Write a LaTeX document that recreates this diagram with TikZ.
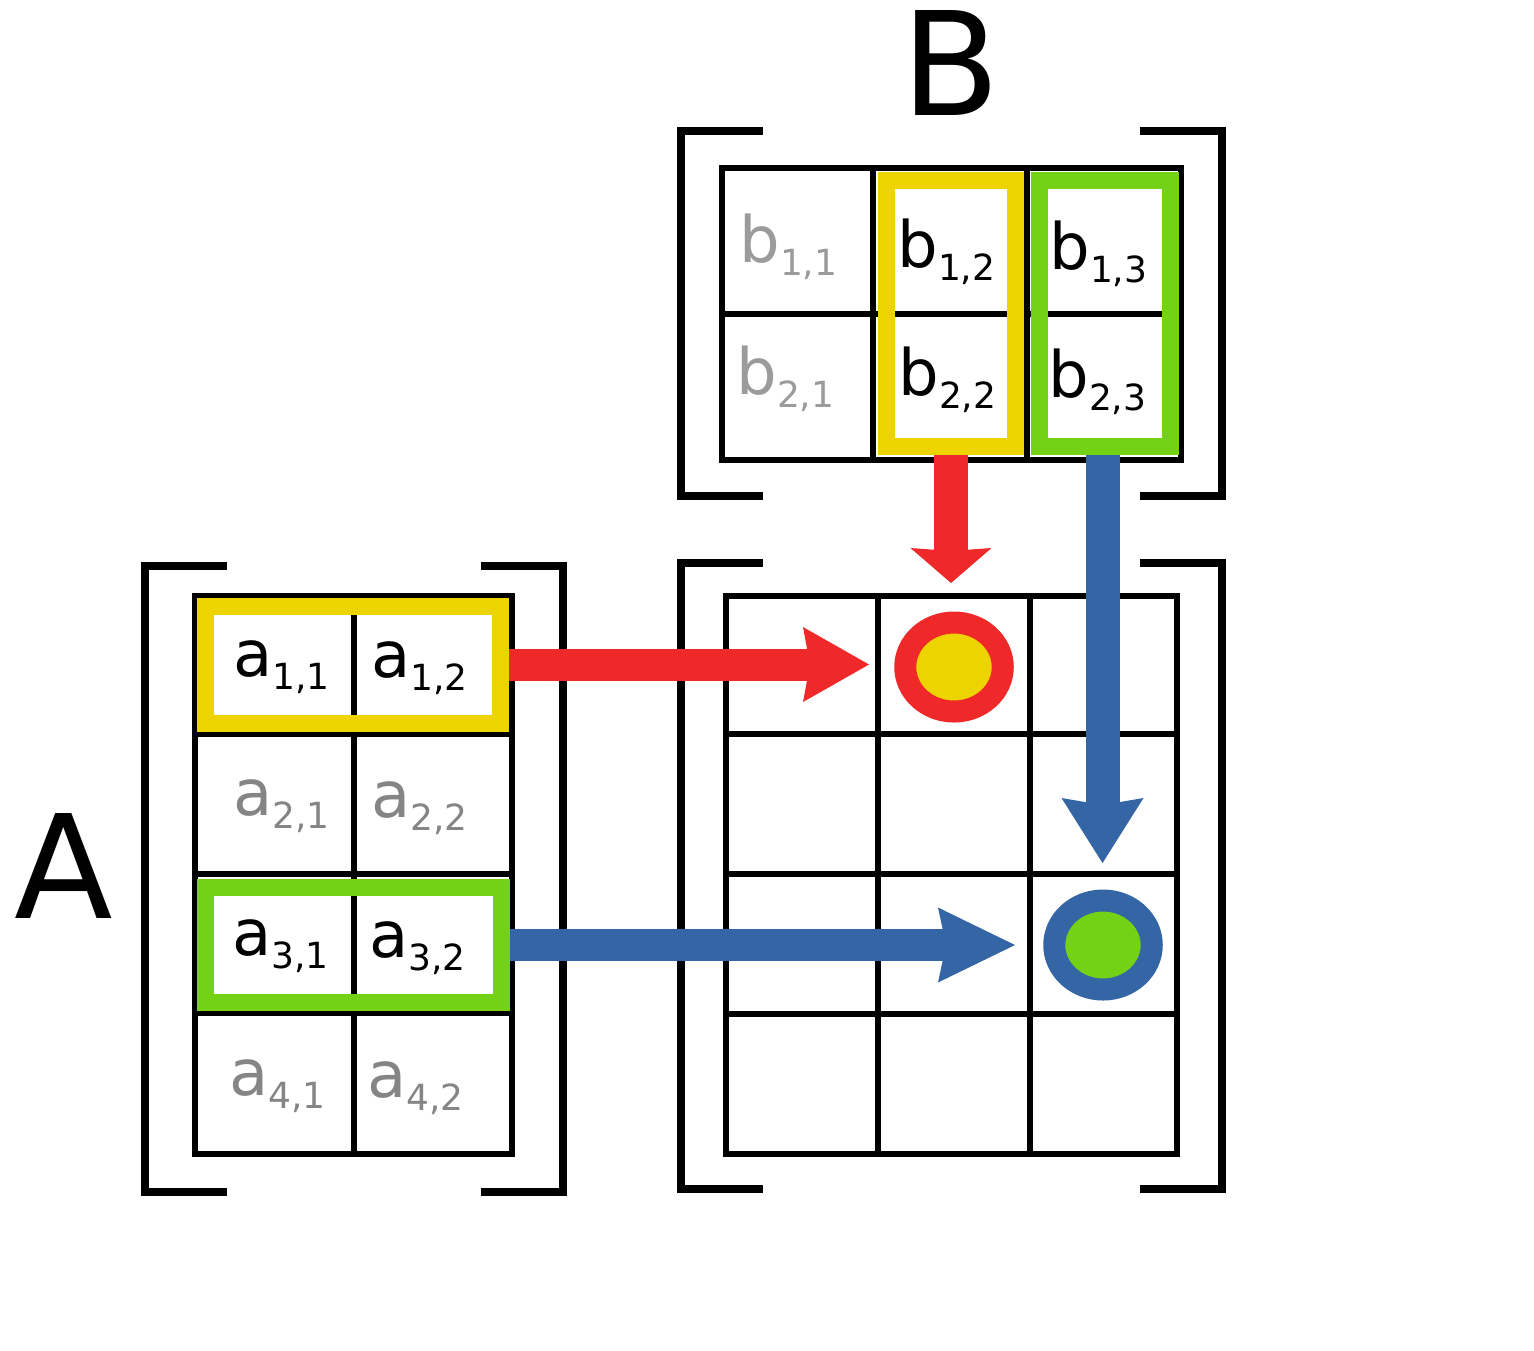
\documentclass[tikz,border=0pt]{standalone}
\usepackage{fontspec}
\setmainfont{DejaVu Sans}
\usetikzlibrary{arrows.meta,shapes.geometric}
\definecolor{cyel}{HTML}{EDD400}
\definecolor{cgrn}{HTML}{73D216}
\definecolor{cred}{HTML}{EF2929}
\definecolor{cblu}{HTML}{3465A4}
\definecolor{agrey}{HTML}{858585}
\definecolor{bgrey}{HTML}{9B9B9B}
\newcommand\mentry[3]{{\fontsize{32pt}{38pt}\selectfont #1}\raisebox{-6.75pt}{\fontsize{18pt}{21pt}\selectfont #2,#3}}
\begin{document}
\begin{tikzpicture}[x=0.5pt,y=-0.5pt,
  gridline/.style={line width=3.25pt},
  bracket/.style={line width=4.25pt},
  hlbox/.style={draw, rectangle, line width=8.5pt, inner sep=0pt},
  ring/.style={ellipse, draw, line width=11pt, minimum width=48.75pt, minimum height=44.5pt, inner sep=0pt},
  ent/.style={anchor=base west, inner sep=0pt},
  big/.style={font=\fontsize{72pt}{84pt}\selectfont, inner sep=0pt}
]
\useasboundingbox[fill=white] (0,0) rectangle (1534,1350);

% brackets
\draw[bracket] (227,566) -- (145,566) -- (145,1192) -- (227,1192);
\draw[bracket] (481,566) -- (563,566) -- (563,1192) -- (481,1192);
\draw[bracket] (763,131) -- (681,131) -- (681,496) -- (763,496);
\draw[bracket] (1140,131) -- (1222,131) -- (1222,496) -- (1140,496);
\draw[bracket] (763,563) -- (681,563) -- (681,1189) -- (763,1189);
\draw[bracket] (1140,563) -- (1222,563) -- (1222,1189) -- (1140,1189);

% grid A
\draw[gridline] (195,596) rectangle (512,1154);
\draw[gridline] (354,596) -- (354,1154);
\foreach \yy in {734,874,1013} \draw[gridline] (195,\yy) -- (512,\yy);
% grid B
\draw[gridline] (722,168) rectangle (1181,460);
\foreach \xx in {873,1027} \draw[gridline] (\xx,168) -- (\xx,460);
\draw[gridline] (722,314) -- (1181,314);
% grid C
\draw[gridline] (726,596) rectangle (1177,1154);
\foreach \xx in {878,1030} \draw[gridline] (\xx,596) -- (\xx,1154);
\foreach \yy in {734,874,1014} \draw[gridline] (726,\yy) -- (1177,\yy);

% highlight boxes
\node[hlbox, cyel, minimum width=147.5pt, minimum height=58.5pt] (yA) at (353,664.5) {};
\node[hlbox, cgrn, minimum width=148pt, minimum height=57.5pt] (gA) at (353.5,945) {};
\node[hlbox, cyel, minimum width=64.5pt, minimum height=133pt] (yB) at (951,313.5) {};
\node[hlbox, cgrn, minimum width=65.5pt, minimum height=133pt] (gB) at (1105,313.5) {};

% labels
\node[big] (labA) at (64,866) {A};
\node[big] (labB) at (951,63) {B};

% entries of A
\node[ent] (a11) at (233,676) {\mentry{a}{1}{1}};
\node[ent] (a12) at (371,677) {\mentry{a}{1}{2}};
\node[ent, text=agrey] (a21) at (233,815) {\mentry{a}{2}{1}};
\node[ent, text=agrey] (a22) at (371,817) {\mentry{a}{2}{2}};
\node[ent] (a31) at (232,955) {\mentry{a}{3}{1}};
\node[ent] (a32) at (369,957) {\mentry{a}{3}{2}};
\node[ent, text=agrey] (a41) at (229,1095) {\mentry{a}{4}{1}};
\node[ent, text=agrey] (a42) at (367,1097) {\mentry{a}{4}{2}};
% entries of B
\node[ent, text=bgrey] (b11) at (739,262) {\mentry{b}{1}{1}};
\node[ent] (b12) at (897,267) {\mentry{b}{1}{2}};
\node[ent] (b13) at (1049,269) {\mentry{b}{1}{3}};
\node[ent, text=bgrey] (b21) at (736,394) {\mentry{b}{2}{1}};
\node[ent] (b22) at (898,395) {\mentry{b}{2}{2}};
\node[ent] (b23) at (1048,397) {\mentry{b}{2}{3}};

% result dots
\node[ring, draw=cred, fill=cyel] (c12) at (954,667) {};
\node[ring, draw=cblu, fill=cgrn] (c32) at (1103,945) {};

% arrow tips
\coordinate (rtH) at (869,664.5);
\coordinate (btH) at (1015,945);
\coordinate (rtV) at (951,583);
\coordinate (btV) at (1102.5,863);

\draw[cred, line width=16pt, -{Stealth[length=33pt,width=37.5pt,inset=3.5pt,line width=0pt]}] (yA.east) -- (rtH |- yA.east);
\draw[cblu, line width=16pt, -{Stealth[length=38.5pt,width=37.5pt,inset=4pt,line width=0pt]}] (gA.east) -- (btH |- gA.east);
\draw[cred, line width=17pt, -{Stealth[length=17.5pt,width=40.5pt,inset=1.5pt,line width=0pt]}] (yB.south -| rtV) -- (rtV);
\draw[cblu, line width=17pt, -{Stealth[length=32.5pt,width=41pt,inset=3.5pt,line width=0pt]}] (gB.south -| btV) -- (btV);
\end{tikzpicture}
\end{document}
